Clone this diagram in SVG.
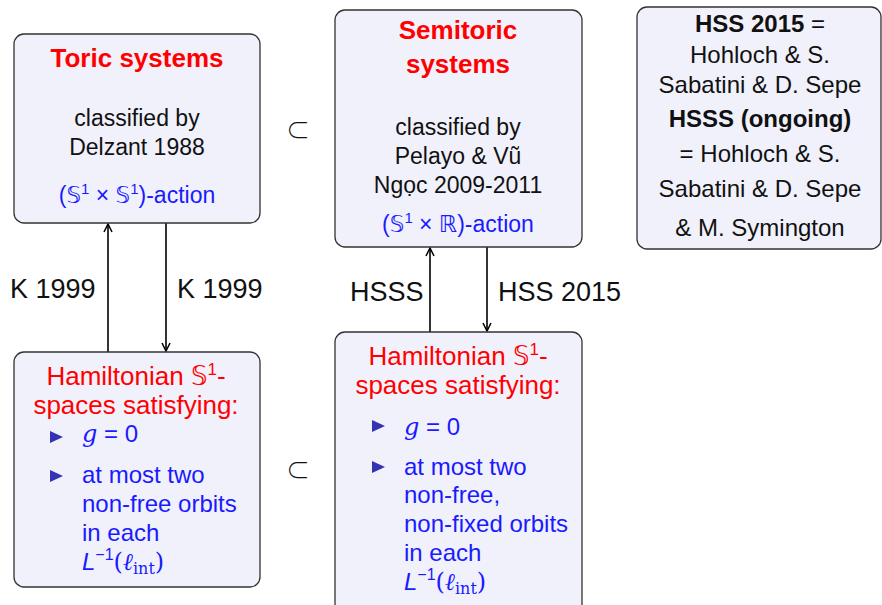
<svg xmlns="http://www.w3.org/2000/svg" width="882" height="605" viewBox="0 0 882 605">
  <defs>
    <marker id="arrow" viewBox="0 0 10 10" refX="9" refY="5" markerWidth="10" markerHeight="10" markerUnits="userSpaceOnUse" orient="auto">
      <path d="M1,1 L9,5 L1,9" fill="none" stroke="#000" stroke-width="1.5"/>
    </marker>
    <polygon id="bullet" points="0,-6 13,0 0,6" fill="#3333b3"/>
  </defs>
  <style>
    .box { fill: #f1f1fc; stroke: #333; stroke-width: 1.3; }
    text { font-family: "Liberation Sans", "DejaVu Sans", sans-serif; }
    .title { font-size: 26px; font-weight: bold; fill: #ff0000; text-anchor: middle; }
    .rtitle { font-size: 26px; fill: #ff0000; text-anchor: middle; }
    .body { font-size: 23px; fill: #111; text-anchor: middle; }
    .act { font-size: 23px; fill: #1a1aff; text-anchor: middle; }
    .note { font-size: 24px; fill: #111; text-anchor: middle; }
    .b { font-weight: bold; }
    .item { font-size: 24px; fill: #1a1aff; }
    .ds { font-family: "DejaVu Sans", sans-serif; }
    .mi { font-family: "DejaVu Serif", "Liberation Serif", serif; font-style: italic; }
    .mr { font-family: "DejaVu Serif", "Liberation Serif", serif; font-style: normal; }
    .it { font-style: italic; }
    .lbl { font-size: 27px; fill: #111; }
    .sub { font-size: 24px; font-weight: 300; fill: #111; font-family: "Noto Sans CJK JP", "DejaVu Sans", sans-serif; text-anchor: middle; }
    .conn { stroke: #000; stroke-width: 1.6; fill: none; }
  </style>

  <!-- connectors -->
  <g id="connectors">
    <line class="conn" x1="108" y1="352" x2="108" y2="224" marker-end="url(#arrow)"/>
    <line class="conn" x1="166" y1="223" x2="166" y2="351" marker-end="url(#arrow)"/>
    <line class="conn" x1="430" y1="332" x2="430" y2="248" marker-end="url(#arrow)"/>
    <line class="conn" x1="487" y1="247" x2="487" y2="331" marker-end="url(#arrow)"/>
    <text class="lbl" x="10" y="298">K 1999</text>
    <text class="lbl" x="177" y="298">K 1999</text>
    <text class="lbl" x="350" y="301">HSSS</text>
    <text class="lbl" x="498" y="301">HSS 2015</text>
  </g>

  <!-- subset symbols -->
  <text class="sub" x="298" y="139">⊂</text>
  <text class="sub" x="298" y="479">⊂</text>

  <!-- toric systems -->
  <g id="toric">
    <rect class="box" x="14" y="34" width="246" height="189" rx="10"/>
    <text class="title" x="137" y="67">Toric systems</text>
    <text class="body" x="137" y="126">classified by</text>
    <text class="body" x="137" y="155">Delzant 1988</text>
    <text class="act" x="137" y="203">(<tspan class="ds">𝕊</tspan><tspan font-size="15" dy="-9">1</tspan><tspan dy="9"> × </tspan><tspan class="ds">𝕊</tspan><tspan font-size="15" dy="-9">1</tspan><tspan dy="9">)-action</tspan></text>
  </g>

  <!-- semitoric systems -->
  <g id="semitoric">
    <rect class="box" x="335" y="10" width="247" height="237" rx="10"/>
    <text class="title" x="458" y="39">Semitoric</text>
    <text class="title" x="458" y="73">systems</text>
    <text class="body" x="458" y="135">classified by</text>
    <text class="body" x="458" y="164">Pelayo &amp; Vũ</text>
    <text class="body" x="458" y="193">Ngọc 2009-2011</text>
    <text class="act" x="458" y="232">(<tspan class="ds">𝕊</tspan><tspan font-size="15" dy="-9">1</tspan><tspan dy="9"> × </tspan><tspan class="ds">ℝ</tspan>)-action</text>
  </g>

  <!-- references -->
  <g id="references">
    <rect class="box" x="637" y="7" width="244" height="242" rx="10"/>
    <text class="note" x="760" y="32"><tspan class="b">HSS 2015</tspan> =</text>
    <text class="note" x="760" y="63">Hohloch &amp; S.</text>
    <text class="note" x="760" y="93">Sabatini &amp; D. Sepe</text>
    <text class="note b" x="760" y="127">HSSS (ongoing)</text>
    <text class="note" x="760" y="162">= Hohloch &amp; S.</text>
    <text class="note" x="760" y="197">Sabatini &amp; D. Sepe</text>
    <text class="note" x="760" y="236">&amp; M. Symington</text>
  </g>

  <!-- hamiltonian S1-spaces, toric case -->
  <g id="ham-toric">
    <rect class="box" x="14" y="352" width="246" height="235" rx="10"/>
    <text class="rtitle" x="136" y="385">Hamiltonian <tspan class="ds">𝕊</tspan><tspan font-size="17" dy="-10">1</tspan><tspan dy="10">-</tspan></text>
    <text class="rtitle" x="136" y="414">spaces satisfying:</text>
    <use href="#bullet" x="50" y="437"/>
    <text class="item" x="82" y="442"><tspan class="mi">g</tspan> = 0</text>
    <use href="#bullet" x="50" y="476"/>
    <text class="item" x="82" y="483">at most two</text>
    <text class="item" x="82" y="512">non-free orbits</text>
    <text class="item" x="82" y="541">in each</text>
    <text class="item" x="82" y="570"><tspan class="it">L</tspan><tspan font-size="16" dy="-10">−1</tspan><tspan dy="10" class="mr">(</tspan><tspan class="mi">ℓ</tspan><tspan class="mr" font-size="16" dy="4">int</tspan><tspan class="mr" dy="-4">)</tspan></text>
  </g>

  <!-- hamiltonian S1-spaces, semitoric case -->
  <g id="ham-semitoric">
    <rect class="box" x="335" y="332" width="247" height="290" rx="10"/>
    <text class="rtitle" x="458" y="365">Hamiltonian <tspan class="ds">𝕊</tspan><tspan font-size="17" dy="-10">1</tspan><tspan dy="10">-</tspan></text>
    <text class="rtitle" x="458" y="394">spaces satisfying:</text>
    <use href="#bullet" x="372" y="426"/>
    <text class="item" x="404" y="435"><tspan class="mi">g</tspan> = 0</text>
    <use href="#bullet" x="372" y="467"/>
    <text class="item" x="404" y="475">at most two</text>
    <text class="item" x="404" y="503">non-free,</text>
    <text class="item" x="404" y="532">non-fixed orbits</text>
    <text class="item" x="404" y="561">in each</text>
    <text class="item" x="404" y="590"><tspan class="it">L</tspan><tspan font-size="16" dy="-10">−1</tspan><tspan dy="10" class="mr">(</tspan><tspan class="mi">ℓ</tspan><tspan class="mr" font-size="16" dy="4">int</tspan><tspan class="mr" dy="-4">)</tspan></text>
  </g>
</svg>
